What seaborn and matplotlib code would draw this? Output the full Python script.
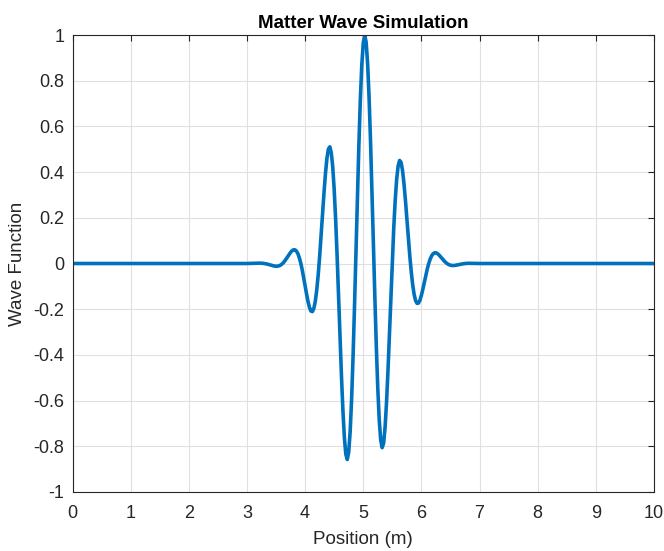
import numpy as np
import pandas as pd
import matplotlib
matplotlib.use("Agg")
import matplotlib.pyplot as plt
import seaborn as sns
from matplotlib.ticker import FuncFormatter

# ---- data ----
title = "Matter Wave Simulation"
x_label = "Position (m)"
y_label = "Wave Function"

# flat tails (wave function is zero there)
tail_left_x = [0.0, 3.0]
tail_left_y = [0.0, 0.0]
tail_right_x = [7.0, 10.0]
tail_right_y = [0.0, 0.0]

# sampled wave packet, positions 3.2 .. 6.8 every 0.025 m
packet_start, packet_stop, packet_n = 3.2, 6.8, 145
packet_y = [
    0.0016, 0.0016, 0.0013, 0.0008, -0.0001, -0.0012, -0.0026, -0.0043, -0.0062, -0.0081,
    -0.0098, -0.0112, -0.0119, -0.0117, -0.0103, -0.0074, -0.003, 0.0032, 0.0109, 0.0199,
    0.0297, 0.0395, 0.0486, 0.0557, 0.0599, 0.0599, 0.0547, 0.0436, 0.026, 0.0022,
    -0.0274, -0.0612, -0.0975, -0.1335, -0.1662, -0.1921, -0.208, -0.2104, -0.197, -0.1659,
    -0.1168, -0.0507, 0.03, 0.1208, 0.2163, 0.3096, 0.3931, 0.4591, 0.5003, 0.5106,
    0.4857, 0.4235, 0.3248, 0.1934, 0.036, -0.1382, -0.3177, -0.4898, -0.6413, -0.7598,
    -0.8346, -0.8578, -0.8248, -0.7351, -0.5927, -0.4056, -0.1853, 0.0536, 0.2949, 0.5215,
    0.7176, 0.869, 0.965, 0.9987, 0.968, 0.8754, 0.728, 0.5369, 0.316, 0.0812,
    -0.1509, -0.3647, -0.5463, -0.6846, -0.7723, -0.8061, -0.7867, -0.7186, -0.6097, -0.4701,
    -0.3116, -0.1464, 0.0137, 0.1582, 0.2788, 0.3694, 0.427, 0.4509, 0.4432, 0.408,
    0.3507, 0.278, 0.1968, 0.1138, 0.0348, -0.0352, -0.0926, -0.1352, -0.1624, -0.1745,
    -0.1731, -0.1604, -0.1392, -0.1124, -0.0828, -0.053, -0.0252, -0.001, 0.0186, 0.033,
    0.0422, 0.0466, 0.0468, 0.0437, 0.0382, 0.0312, 0.0236, 0.016, 0.009, 0.0031,
    -0.0017, -0.0052, -0.0074, -0.0086, -0.0088, -0.0083, -0.0073, -0.006, -0.0046, -0.0032,
    -0.002, -0.0009, -0.0001, 0.0005, 0.0009,
]

x_ticks = [0, 1, 2, 3, 4, 5, 6, 7, 8, 9, 10]
y_ticks = [-1, -0.8, -0.6, -0.4, -0.2, 0, 0.2, 0.4, 0.6, 0.8, 1]

packet_x = list(np.linspace(packet_start, packet_stop, packet_n))
df = pd.DataFrame({
    "x": tail_left_x + packet_x + tail_right_x,
    "y": tail_left_y + packet_y + tail_right_y,
})

# ---- style ----
sns.set_theme(style="white")
plt.rcParams["font.family"] = ["Liberation Sans", "DejaVu Sans"]
plt.rcParams["axes.unicode_minus"] = False

dark = "#262626"
fig = plt.figure(figsize=(6.64, 5.51), dpi=100)
ax = fig.add_axes([72.5 / 664, 1 - 492 / 551, (654 - 72.5) / 664, (492 - 35) / 551])

sns.lineplot(data=df, x="x", y="y", ax=ax, color="#0072BD", linewidth=2.6,
             sort=False, estimator=None)

ax.set_xlim(0, 10)
ax.set_ylim(-1, 1)
ax.set_xticks(x_ticks)
ax.set_yticks(y_ticks)
ax.xaxis.set_major_formatter(FuncFormatter(lambda v, p: f"{v:g}"))
ax.yaxis.set_major_formatter(FuncFormatter(lambda v, p: f"{v:g}"))

ax.grid(True, color="#e0e0e0", linewidth=0.8)
ax.set_axisbelow(True)
for s in ax.spines.values():
    s.set_visible(True)
    s.set_color(dark)
    s.set_linewidth(0.8)

ax.tick_params(axis="both", which="major", direction="in", length=4.2, width=0.8,
               colors=dark, labelsize=13, top=True, right=True,
               labeltop=False, labelright=False)
ax.tick_params(axis="x", pad=9.5)
ax.tick_params(axis="y", pad=6)

ax.set_xlabel(x_label, fontsize=13.5, color=dark, labelpad=6.5)
ax.set_ylabel(y_label, fontsize=13.5, color=dark, labelpad=5)
ax.set_title(title, fontsize=13.5, fontweight="bold", color="black", pad=5)

fig.savefig("out.png", dpi=100)
